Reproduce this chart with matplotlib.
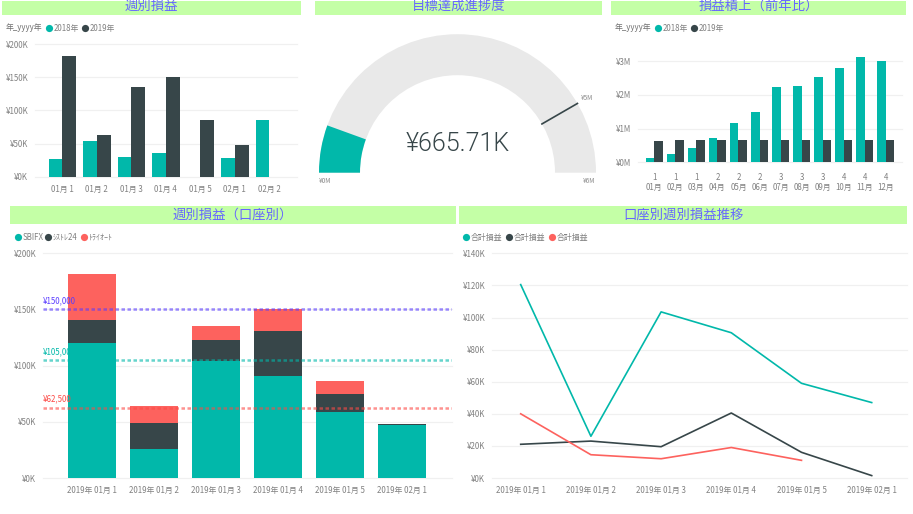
import matplotlib
matplotlib.use('Agg')
import matplotlib.pyplot as plt
import numpy as np
from matplotlib.lines import Line2D
from matplotlib.patches import Rectangle, Wedge

plt.rcParams['font.family'] = ['Noto Sans CJK JP', 'DejaVu Sans']

W, H = 913, 514
TEAL = '#01B8AA'
DARK = '#374649'
RED = '#FD625E'
GRID = '#F0F0F0'
TXT = '#808080'

# weekly P/L, top left
week_labels = ['01月 1', '01月 2', '01月 3', '01月 4', '01月 5', '02月 1', '02月 2']
week_2018 = [26000, 53500, 30000, 36000, 0, 28000, 85000]
week_2019 = [182000, 63000, 135000, 150000, 85000, 47500, 0]
week_yticks = [0, 50000, 100000, 150000, 200000]
week_ylabels = ['¥0K', '¥50K', '¥100K', '¥150K', '¥200K']

# gauge
gauge_value = 665710
gauge_target = 5000000
gauge_max = 6000000

# cumulative, top right
month_labels = ['1\n01月', '1\n02月', '1\n03月', '2\n04月', '2\n05月', '2\n06月',
                '3\n07月', '3\n08月', '3\n09月', '4\n10月', '4\n11月', '4\n12月']
cum_2018 = [140000, 260000, 430000, 730000, 1170000, 1500000,
            2250000, 2270000, 2530000, 2810000, 3130000, 3000000]
cum_2019 = [620000, 665000, 665000, 665000, 665000, 665000,
            665000, 665000, 665000, 665000, 665000, 665000]
cum_yticks = [0, 1000000, 2000000, 3000000]
cum_ylabels = ['¥0M', '¥1M', '¥2M', '¥3M']

# by account
acct_labels = ['2019年 01月 1', '2019年 01月 2', '2019年 01月 3',
               '2019年 01月 4', '2019年 01月 5', '2019年 02月 1']
sbifx = [120000, 26000, 104000, 90500, 59000, 47000]
systre = [21000, 23000, 19000, 40000, 16000, 1000]
triauto = [41000, 15000, 12000, 19500, 11000, 0]
acct_ylabels = ['¥0K', '¥50K', '¥100K', '¥150K', '¥200K']
ref_values = [150000, 105000, 62500]
ref_labels = ['¥150,000', '¥105,000', '¥62,500']
ref_colors = ['#5A3CFF', '#01B8AA', '#FD4A46']

# lines
line_sbifx = [120500, 26000, 103500, 90500, 59000, 47000]
line_systre = [21000, 23000, 19500, 40500, 16000, 1500]
line_triauto = [40000, 14500, 12000, 19000, 11000]
line_yticks = [0, 20000, 40000, 60000, 80000, 100000, 120000, 140000]
line_ylabels = ['¥0K', '¥20K', '¥40K', '¥60K', '¥80K', '¥100K', '¥120K', '¥140K']

fig = plt.figure(figsize=(W / 100, H / 100), dpi=100, facecolor='w')


def px_axes(x0, ytop, x1, ybot):
    ax = fig.add_axes([x0 / W, 1 - ybot / H, (x1 - x0) / W, (ybot - ytop) / H])
    for s in ax.spines.values():
        s.set_visible(False)
    ax.tick_params(length=0, labelsize=5.7, labelcolor=TXT, pad=5)
    ax.set_axisbelow(True)
    ax.yaxis.grid(True, color=GRID, linewidth=0.9, clip_on=False)
    ax.patch.set_alpha(0)
    return ax


def header(x0, x1, ytop, ybot, text, size, ytext):
    fig.add_artist(Rectangle((x0 / W, 1 - ybot / H), (x1 - x0) / W, (ybot - ytop) / H,
                             transform=fig.transFigure, facecolor='#C4FFA6', edgecolor='none'))
    fig.text((x0 + x1) / 2 / W, 1 - ytext / H, text, color='#6666FF', fontsize=size,
             ha='center', va='center')


def legend(y, title, dots, labels, colors):
    if title:
        fig.text(title[1] / W, 1 - y / H, title[0], fontsize=5.7, color='#707070', va='center')
    for x, lab, col in zip(dots, labels, colors):
        fig.add_artist(Line2D([x / W], [1 - y / H], marker='o', markersize=5.2, color=col,
                              markeredgewidth=0, transform=fig.transFigure))
        fig.text((x + 5) / W, 1 - y / H, lab, fontsize=5.7, color=TXT, va='center')


header(2, 301, 1, 15, '週別損益', 9.6, 6)
header(315, 602, 1, 15, '目標達成進捗度', 9.6, 6)
header(611, 906, 1, 15, '損益積上（前年比）', 9.6, 6)
header(10, 456, 206, 224, '週別損益（口座別）', 9.6, 215)
header(459, 907, 206, 224, '口座別週別損益推移', 9.6, 215)

# top left bars
ax = px_axes(35, 44.5, 297, 176.5)
x = np.arange(len(week_labels))
ax.bar(x - 0.2, week_2018, 0.4, color=TEAL, edgecolor='none')
ax.bar(x + 0.2, week_2019, 0.4, color=DARK, edgecolor='none')
ax.set_xlim((35 - 62.3) / 34.5, (297 - 62.3) / 34.5)
ax.set_ylim(0, 200000)
ax.set_yticks(week_yticks, week_ylabels)
ax.set_xticks(x, week_labels)
ax.tick_params(axis='x', pad=6)
legend(28, ('年_yyyy年', 6), [49, 85], ['2018年', '2019年'], [TEAL, DARK])

# gauge
ax = fig.add_axes([319 / W, 1 - 172.7 / H, 277 / W, 138.5 / H])
ax.set_xlim(-138.5, 138.5)
ax.set_ylim(0, 138.5)
ax.axis('off')
R_OUT, R_IN = 138.5, 97.5
ax.add_patch(Wedge((0, 0), R_OUT, 0, 180, width=R_OUT - R_IN, facecolor='#E9E9E9', edgecolor='none'))
ang = 180 - gauge_value / gauge_max * 180
ax.add_patch(Wedge((0, 0), R_OUT, ang, 180, width=R_OUT - R_IN, facecolor=TEAL, edgecolor='none'))
t = np.deg2rad(180 - gauge_target / gauge_max * 180)
ax.plot([R_IN * np.cos(t), R_OUT * np.cos(t)], [R_IN * np.sin(t), R_OUT * np.sin(t)],
        color=DARK, linewidth=1.2)
fig.text(457.5 / W, 1 - 144 / H, '¥665.71K', fontsize=18, color=DARK, ha='center', va='center',
         family=['Roboto', 'DejaVu Sans'], weight=300)
for lx, ly, lab in [(319, 181, '¥0M'), (581, 98, '¥5M'), (583, 181, '¥6M')]:
    fig.text(lx / W, 1 - ly / H, lab, fontsize=4.6, color='#888888', va='center')

# top right bars
ax = px_axes(638, 61.3, 902, 162.3)
x = np.arange(len(month_labels))
ax.bar(x - 0.2, cum_2018, 0.4, color=TEAL, edgecolor='none', clip_on=False)
ax.bar(x + 0.2, cum_2019, 0.4, color=DARK, edgecolor='none')
ax.set_xlim((638 - 654.3) / 21.04, (902 - 654.3) / 21.04)
ax.set_ylim(0, 3000000)
ax.set_yticks(cum_yticks, cum_ylabels)
ax.set_xticks(x, month_labels)
ax.tick_params(axis='x', pad=7.5)
legend(28, ('年_yyyy年', 615), [658, 694], ['2018年', '2019年'], [TEAL, DARK])

# bottom left stacked
ax = px_axes(43, 253.3, 452, 478)
x = np.arange(len(acct_labels))
ax.bar(x, sbifx, 0.774, color=TEAL, edgecolor='none')
ax.bar(x, systre, 0.774, bottom=sbifx, color=DARK, edgecolor='none')
ax.bar(x, triauto, 0.774, bottom=np.add(sbifx, systre), color=RED, edgecolor='none')
ax.set_xlim((43 - 92) / 62, (452 - 92) / 62)
ax.set_ylim(0, 200000)
ax.set_yticks(week_yticks, acct_ylabels)
ax.set_xticks(x, acct_labels)
ax.tick_params(axis='x', pad=6)
for v, lab, c in zip(ref_values, ref_labels, ref_colors):
    ax.axhline(v, color=c, linewidth=1.8, alpha=0.6, dashes=(1.4, 1.0))
    ax.annotate(lab, (0, v), xycoords=ax.get_yaxis_transform(), xytext=(0, 3), textcoords='offset points',
                fontsize=5.7, color=c, va='bottom', ha='left')
legend(237, None, [17.5, 48, 84], ['SBIFX', 'ｼｽﾄﾚ24', 'ﾄﾗｲｵｰﾄ'], [TEAL, DARK, RED])

# bottom right lines
ax = px_axes(492, 253.3, 907, 478)
x = np.arange(len(acct_labels))
ax.plot(x, line_sbifx, color=TEAL, linewidth=1.2)
ax.plot(x, line_systre, color=DARK, linewidth=1.2)
ax.plot(x[:len(line_triauto)], line_triauto, color=RED, linewidth=1.2)
ax.set_xlim((492 - 520.7) / 70.2, (907 - 520.7) / 70.2)
ax.set_ylim(0, 140000)
ax.set_yticks(line_yticks, line_ylabels)
ax.set_xticks(x, acct_labels)
ax.tick_params(axis='x', pad=6)
legend(237, None, [466, 509, 552], ['合計損益', '合計損益', '合計損益'], [TEAL, DARK, RED])

fig.savefig('out.png', dpi=100)
